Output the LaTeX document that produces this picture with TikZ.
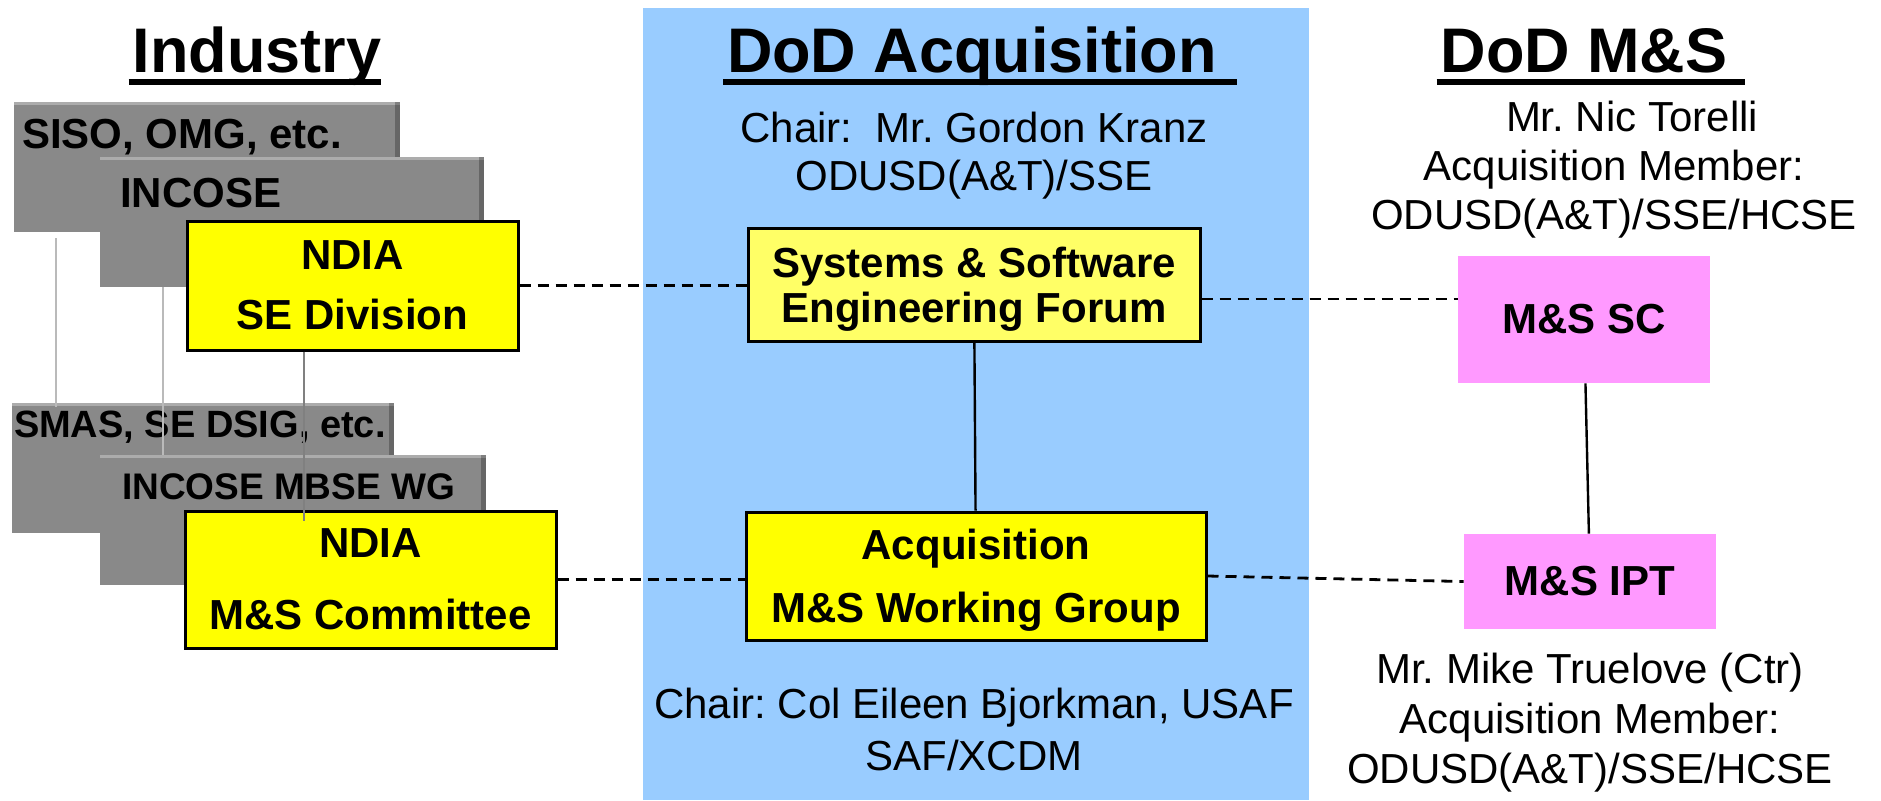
\documentclass[tikz,border=0pt]{standalone}
\usepackage{fontspec}
\setmainfont{Liberation Sans}
\usepackage{tikz}
\frenchspacing

\definecolor{panelBlue}{HTML}{99CCFF}
\definecolor{ndiaYellow}{HTML}{FFFF00}
\definecolor{forumYellow}{HTML}{FFFF66}
\definecolor{msPink}{HTML}{FF99FF}
\definecolor{orgGray}{HTML}{898989}

\newcommand{\headUl}[2][0pt]{\setbox0\hbox{#2}\rlap{\kern-2pt\rule[-6.5pt]{\dimexpr\wd0+2pt+#1\relax}{3pt}}\box0}

\begin{document}
\begin{tikzpicture}[x=0.5pt,y=-0.5pt]
		\useasboundingbox (0,0) rectangle (1881,800);
		\fill[panelBlue] (643,8) rectangle (1309,800);

		\begin{scope}
			[
				styleGray/.style={
					fill=orgGray, inner sep=0pt, minimum height=65pt,
					path picture={
						\fill[white, opacity=0.3] (path picture bounding box.north west) rectangle ([yshift=-1.5pt]path picture bounding box.north east);
						\fill[black, opacity=0.25] ([xshift=-2.5pt]path picture bounding box.north east) rectangle (path picture bounding box.south east);
						}
					},
				styleGrayText/.style={inner sep=0pt, anchor=north west, font=\bfseries\fontsize{21}{24}\selectfont},
				styleBox/.style={draw, line width=1.5pt, fill=ndiaYellow, inner sep=0pt, align=center},
				stylePink/.style={fill=msPink, inner sep=0pt, minimum width=126pt, font=\bfseries\fontsize{21}{24}\selectfont},
				styleText/.style={inner sep=0pt, align=center},
				styleTitle/.style={inner sep=0pt, anchor=base, font=\bfseries\fontsize{31.5}{36}\selectfont},
			]
			% titles
			\node(tInd)[styleTitle] at (257,72) {\headUl{Industry}};
			\node(tAcq)[styleTitle] at (972,72) {\headUl[10pt]{DoD Acquisition}};
			\node(tMs)[styleTitle] at (1584,72) {\headUl[9pt]{DoD M\&S}};

			% industry stacks
			\node(siso)[styleGray, minimum width=193pt, label={[styleGrayText, xshift=4pt, yshift=-8.5pt]north west:{SISO, OMG, etc.}}] at (207,167) {};
			\node(incose)[styleGray, minimum width=192pt, label={[styleGrayText, xshift=10pt, yshift=-10.5pt]north west:{INCOSE}}] at (292,222) {};
			\node(ndiase)[styleBox, minimum width=165.5pt, minimum height=64.5pt, font=\bfseries\fontsize{21}{30}\selectfont] at (352.5,285.5) {NDIA\\SE Division};

			\node(smas)[styleGray, minimum width=191pt, label={[styleGrayText, xshift=1pt, yshift=-4pt, font=\bfseries\fontsize{19}{22}\selectfont]north west:{SMAS, SE DSIG, etc.}}] at (203,468) {};
			\node(mbse)[styleGray, minimum width=193pt, label={[styleGrayText, xshift=11pt, yshift=-9.5pt, font=\bfseries\fontsize{18.5}{22}\selectfont]north west:{INCOSE MBSE WG}}] at (293,520) {};
			\node(ndiams)[styleBox, minimum width=185.5pt, minimum height=68.5pt, font=\bfseries\fontsize{21}{36}\selectfont] at (370.5,579.5) {NDIA\\M\&S Committee};

			% acquisition
			\node(chairTop)[styleText, font=\fontsize{21}{24}\selectfont] at (974,155.5) {Chair:\ \ Mr. Gordon Kranz\\ODUSD(A\&T)/SSE};
			\node(ssef)[styleBox, fill=forumYellow, minimum width=226pt, minimum height=56.5pt, text depth=0pt, font=\bfseries\fontsize{21}{22.5}\selectfont] at (974,284.5) {Systems \& Software\\Engineering Forum};
			\node(acqwg)[styleBox, minimum width=230pt, minimum height=64pt, text depth=0pt, font=\bfseries\fontsize{21}{31.5}\selectfont] at (976,576) {Acquisition\\M\&S Working Group};
			\node(chairBot)[styleText, font=\fontsize{21}{26}\selectfont] at (974,729.5) {Chair: Col Eileen Bjorkman, USAF\\SAF/XCDM};

			% m&s
			\node(msTop)[styleText, font=\fontsize{21}{24.5}\selectfont] at (1614,169.5) {\hspace*{18pt}Mr. Nic Torelli\\Acquisition Member:\hspace*{8pt}\\ODUSD(A\&T)/SSE/HCSE};
			\node(mssc)[stylePink, minimum height=63.5pt] at (1584,319.5) {M\&S SC};
			\node(msipt)[stylePink, minimum height=47.5pt] at (1590,581.5) {M\&S IPT};
			\node(msBot)[styleText, font=\fontsize{21}{25}\selectfont] at (1590,722.5) {Mr. Mike Truelove (Ctr)\\Acquisition Member:\\ODUSD(A\&T)/SSE/HCSE};
		\end{scope}

		\begin{scope}
			[ dashLink/.style = {dash pattern=on 5.5pt off 3.5pt, line width=1.4pt},
				solidLink/.style = {line width=1.2pt},
				grayLink/.style = {line width=1pt, draw=black!27},
				darkLink/.style = {line width=1pt, draw=black!50}]
			\path
			(ndiase.east) edge[dashLink] (ndiase.east -| ssef.west)
			([yshift=-7.25pt]ssef.east) edge[dashLink] ([yshift=-7.25pt]ssef.east -| mssc.west)
			(ndiams.east) edge[dashLink] (ndiams.east -| acqwg.west)
			(acqwg.east) edge[dashLink] (msipt.west)

			(ssef) edge[solidLink] (acqwg)
			(mssc) edge[solidLink] (msipt)

			([xshift=21pt, yshift=-3pt]siso.south west) edge[grayLink] ([xshift=22pt, yshift=-2pt]smas.north west)
			([xshift=31.5pt]incose.south west) edge[grayLink] ([xshift=31.5pt]mbse.north west)
			([xshift=59pt]ndiase.south west) edge[darkLink] ([xshift=60pt, yshift=-5.5pt]ndiams.north west);
		\end{scope}
	\end{tikzpicture}
\end{document}
